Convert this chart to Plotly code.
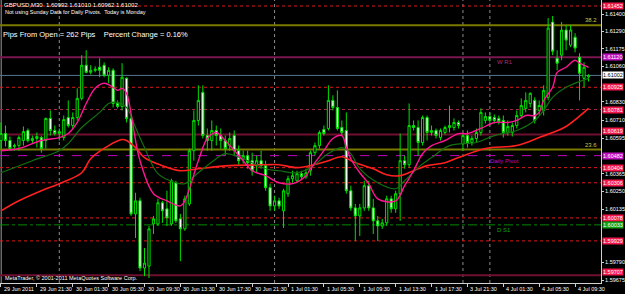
import plotly.graph_objects as go
import pandas as pd

# ---------------- data (GBPUSD M30) ----------------
opens = [
1.60580, 1.60625, 1.60580, 1.60541, 1.60547, 1.60580, 1.60645, 1.60580, 1.60593, 1.60599,
1.60580, 1.60723, 1.60645, 1.60625, 1.60599, 1.60729, 1.60677, 1.60729, 1.60853, 1.61068,
1.61022, 1.61035, 1.61055, 1.61068, 1.61003, 1.61035, 1.60820, 1.60801, 1.60983, 1.60723,
1.60104, 1.60189, 1.59753, 1.59766, 1.60039, 1.60039, 1.60176, 1.60137, 1.60039, 1.60306,
1.60072, 1.60007, 1.60169, 1.60514, 1.60710, 1.60892, 1.60612, 1.60580, 1.60645, 1.60612,
1.60580, 1.60547, 1.60612, 1.60514, 1.60462, 1.60482, 1.60449, 1.60417, 1.60449, 1.60417,
1.60274, 1.60156, 1.60189, 1.60124, 1.60235, 1.60332, 1.60319, 1.60365, 1.60345, 1.60384,
1.60501, 1.60547, 1.60651, 1.60658, 1.60840, 1.60794, 1.60664, 1.60645, 1.60254, 1.60143,
1.60091, 1.60143, 1.60287, 1.60143, 1.60059, 1.60026, 1.60046, 1.60202, 1.60137, 1.60235,
1.60449, 1.60423, 1.60677, 1.60664, 1.60567, 1.60729, 1.60632, 1.60645, 1.60599, 1.60632,
1.60664, 1.60664, 1.60697, 1.60560, 1.60612, 1.60567, 1.60593, 1.60632, 1.60710, 1.60736,
1.60729, 1.60723, 1.60710, 1.60632, 1.60632, 1.60677, 1.60742, 1.60788, 1.60820, 1.60840,
1.60775, 1.60775, 1.60860, 1.61348, 1.61113, 1.61133, 1.61296, 1.61198, 1.61250, 1.61120,
1.60983, 1.60992]

highs = [
1.60697, 1.60677, 1.60606, 1.60560, 1.60612, 1.60671, 1.60658, 1.60612, 1.60632, 1.60612,
1.60729, 1.60775, 1.60677, 1.60658, 1.60742, 1.60840, 1.60762, 1.60918, 1.61133, 1.61165,
1.61068, 1.61061, 1.61113, 1.61087, 1.61055, 1.61048, 1.60840, 1.61081, 1.60990, 1.60742,
1.60241, 1.60209, 1.59883, 1.60026, 1.60091, 1.60202, 1.60189, 1.60254, 1.60332, 1.60319,
1.60104, 1.60222, 1.60528, 1.60775, 1.60938, 1.60938, 1.60658, 1.60710, 1.60677, 1.60658,
1.60612, 1.60632, 1.60645, 1.60547, 1.60514, 1.60514, 1.60501, 1.60482, 1.60514, 1.60449,
1.60300, 1.60222, 1.60209, 1.60267, 1.60352, 1.60384, 1.60384, 1.60384, 1.60397, 1.60514,
1.60567, 1.60645, 1.60677, 1.60938, 1.60873, 1.60905, 1.60710, 1.60762, 1.60287, 1.60169,
1.60169, 1.60319, 1.60319, 1.60202, 1.60091, 1.60072, 1.60222, 1.60222, 1.60254, 1.60625,
1.60482, 1.60820, 1.60710, 1.60710, 1.60742, 1.60742, 1.60677, 1.60658, 1.60658, 1.60677,
1.60807, 1.60723, 1.60710, 1.60625, 1.60645, 1.60612, 1.60658, 1.60788, 1.60762, 1.60762,
1.60749, 1.60742, 1.60742, 1.60710, 1.60697, 1.60775, 1.60853, 1.60892, 1.60892, 1.60860,
1.60840, 1.60938, 1.61374, 1.61387, 1.61165, 1.61348, 1.61328, 1.61328, 1.61276, 1.61146,
1.61087, 1.61010]

lows = [
1.60528, 1.60541, 1.60514, 1.60514, 1.60514, 1.60547, 1.60567, 1.60560, 1.60534, 1.60501,
1.60528, 1.60612, 1.60612, 1.60580, 1.60580, 1.60664, 1.60658, 1.60710, 1.60840, 1.61016,
1.61009, 1.61022, 1.60990, 1.60990, 1.60951, 1.60794, 1.60788, 1.60775, 1.60697, 1.60091,
1.59948, 1.59733, 1.59701, 1.59688, 1.59974, 1.60026, 1.60046, 1.60026, 1.60026, 1.60046,
1.59798, 1.59994, 1.60156, 1.60449, 1.60677, 1.60593, 1.60514, 1.60514, 1.60547, 1.60528,
1.60482, 1.60514, 1.60482, 1.60417, 1.60430, 1.60397, 1.60352, 1.60371, 1.60397, 1.60254,
1.60124, 1.60124, 1.60137, 1.60013, 1.60215, 1.60306, 1.60306, 1.60332, 1.60332, 1.60352,
1.60482, 1.60528, 1.60612, 1.60645, 1.60775, 1.60645, 1.60612, 1.60235, 1.60124, 1.59929,
1.59961, 1.60124, 1.60124, 1.59974, 1.59929, 1.60007, 1.60026, 1.60111, 1.60111, 1.60059,
1.60397, 1.60404, 1.60645, 1.60482, 1.60547, 1.60580, 1.60612, 1.60593, 1.60580, 1.60619,
1.60632, 1.60645, 1.60658, 1.60514, 1.60534, 1.60547, 1.60567, 1.60612, 1.60690, 1.60677,
1.60690, 1.60684, 1.60599, 1.60612, 1.60606, 1.60658, 1.60729, 1.60762, 1.60794, 1.60690,
1.60742, 1.60742, 1.60840, 1.61133, 1.61035, 1.61100, 1.61165, 1.61185, 1.61152, 1.60840,
1.60925, 1.60962]

closes = [
1.60625, 1.60580, 1.60528, 1.60547, 1.60599, 1.60638, 1.60580, 1.60593, 1.60606, 1.60528,
1.60723, 1.60645, 1.60625, 1.60638, 1.60716, 1.60677, 1.60729, 1.60853, 1.61068, 1.61022,
1.61035, 1.61042, 1.61035, 1.61003, 1.61035, 1.60820, 1.60801, 1.60990, 1.60723, 1.60104,
1.60189, 1.59753, 1.59785, 1.60007, 1.60072, 1.60176, 1.60124, 1.60078, 1.60319, 1.60059,
1.60007, 1.60202, 1.60514, 1.60710, 1.60840, 1.60612, 1.60580, 1.60645, 1.60612, 1.60580,
1.60528, 1.60593, 1.60514, 1.60449, 1.60482, 1.60436, 1.60384, 1.60449, 1.60417, 1.60274,
1.60156, 1.60189, 1.60156, 1.60254, 1.60332, 1.60352, 1.60365, 1.60345, 1.60371, 1.60501,
1.60547, 1.60632, 1.60625, 1.60840, 1.60794, 1.60658, 1.60632, 1.60254, 1.60143, 1.60091,
1.60143, 1.60287, 1.60143, 1.60059, 1.60026, 1.60046, 1.60202, 1.60137, 1.60235, 1.60449,
1.60423, 1.60677, 1.60664, 1.60567, 1.60729, 1.60632, 1.60645, 1.60612, 1.60645, 1.60664,
1.60677, 1.60697, 1.60677, 1.60612, 1.60567, 1.60593, 1.60632, 1.60762, 1.60736, 1.60710,
1.60710, 1.60703, 1.60632, 1.60671, 1.60677, 1.60742, 1.60807, 1.60840, 1.60886, 1.60710,
1.60807, 1.60905, 1.61309, 1.61159, 1.61081, 1.61296, 1.61231, 1.61296, 1.61179, 1.61016,
1.61055, 1.61002]

# moving averages (bar index, value)
ma_fast_idx = [0,4,9,13,15,17,19,21,23,25,26,27,28,29,30,31,34,37,40,41,44,46,48,50,54,56,59,62,65,68,
               69,72,74,76,77,78,80,82,84,88,90,92,94,96,99,102,104,107,110,113,115,117,119,120,121,
               123,124,126,128,129,131]
ma_fast = [1.60514,1.60528,1.60580,1.60599,1.60625,1.60697,1.60820,1.60918,1.60951,1.60925,
           1.60905,1.60918,1.60886,1.60755,1.60580,1.60449,1.60235,1.60189,1.60156,1.60189,
           1.60449,1.60593,1.60632,1.60580,1.60449,1.60384,1.60352,1.60306,1.60300,1.60352,
           1.60397,1.60514,1.60593,1.60612,1.60534,1.60462,1.60371,1.60300,1.60202,1.60189,
           1.60287,1.60384,1.60495,1.60547,1.60580,1.60625,1.60625,1.60658,1.60697,1.60697,
           1.60710,1.60742,1.60742,1.60762,1.60840,1.60925,1.61022,1.61055,1.61100,1.61081,
           1.61055]

ma_mid_idx = [0,7,13,15,18,22,24,26,28,30,32,35,39,41,44,48,50,54,59,62,66,69,73,76,78,80,84,88,90,93,
              96,100,106,110,115,119,121,123,126,131]
ma_mid = [1.60371,1.60449,1.60514,1.60560,1.60664,1.60762,1.60820,1.60827,1.60794,1.60664,
          1.60534,1.60365,1.60306,1.60300,1.60371,1.60462,1.60495,1.60462,1.60397,1.60384,
          1.60371,1.60404,1.60495,1.60534,1.60495,1.60397,1.60306,1.60267,1.60319,1.60404,
          1.60469,1.60547,1.60567,1.60612,1.60645,1.60710,1.60775,1.60860,1.60925,1.60983]

ma_slow_idx = [0,4,9,13,18,20,24,27,28,30,32,36,40,44,51,59,62,66,69,73,76,79,83,86,89,92,95,99,102,108,
               115,120,123,126,131]
ma_slow = [1.60124,1.60189,1.60254,1.60300,1.60371,1.60462,1.60547,1.60586,1.60580,1.60534,
           1.60469,1.60417,1.60384,1.60397,1.60417,1.60423,1.60423,1.60404,1.60417,1.60449,
           1.60475,1.60436,1.60397,1.60358,1.60352,1.60384,1.60417,1.60436,1.60469,1.60528,
           1.60547,1.60599,1.60632,1.60671,1.60788]

# pivot / fibo levels
levels = [1.61452, 1.61328, 1.61120, 1.60925, 1.60781, 1.60619, 1.60521, 1.60482,
          1.60404, 1.60306, 1.60078, 1.60033, 1.59929, 1.59707]
level_kinds = ["red", "fibo", "wr1", "red", "maroon_dot", "maroon", "fibo", "pivot",
               "red", "red", "red", "s1", "red", "maroon"]
level_texts = ["", "38.2", "W R1", "", "", "", "23.6", "Daily Pivot", "", "", "", "D S1", "", ""]

# visible price-scale labels (the others are hidden behind the level boxes)
price_ticks = [1.61400, 1.61290, 1.61175, 1.61060, 1.60830, 1.60710, 1.60595,
               1.60365, 1.60250, 1.60135, 1.59790, 1.59675]

header = "GBPUSD,M30  1.60992 1.61010 1.60962 1.61002"
sub_header = "Not using Sunday Data for Daily Pivots.  Today is Monday"
pips_text = "Pips From Open = 262 Pips    Percent Change = 0.16%"
copyright_text = "MetaTrader, \u00a9 2001-2011 MetaQuotes Software Corp."

# bar times (weekend gap between 1 Jul and 3 Jul)
times = list(pd.date_range("2011-06-29 17:30", periods=103, freq="30min")) + \
        list(pd.date_range("2011-07-03 21:00", periods=29, freq="30min"))

# ---------------- figure ----------------
FONT = "Liberation Sans"
n = len(opens)
idx = list(range(n))

styles = {
    "red":        dict(color="#e01818", dash="dot",     width=1, box="#f5164a"),
    "fibo":       dict(color="#7a7a00", dash="solid",   width=2, box=None),
    "wr1":        dict(color="#7a1650", dash="solid",   width=2, box="#c010c0"),
    "maroon_dot": dict(color="#a02848", dash="dot",     width=1, box="#f5164a"),
    "maroon":     dict(color="#701030", dash="solid",   width=2, box="#f5164a"),
    "pivot":      dict(color="#c000c0", dash="dash",    width=1, box="#c010c0"),
    "s1":         dict(color="#008a00", dash="dashdot", width=1, box="#10a010"),
}
text_colors = {"fibo": "#c8c850", "wr1": "#b03070", "pivot": "#c000c0", "s1": "#10a010"}

fig = go.Figure()

fig.add_trace(go.Candlestick(
    x=idx, open=opens, high=highs, low=lows, close=closes,
    increasing=dict(line=dict(color="#00e000", width=1), fillcolor="#000000"),
    decreasing=dict(line=dict(color="#00e000", width=1), fillcolor="#ffffff"),
    whiskerwidth=0, hoverinfo="skip", showlegend=False))

fig.add_trace(go.Scatter(x=ma_slow_idx, y=ma_slow, mode="lines", line=dict(color="#ff2020", width=1.6, shape="spline"),
                         hoverinfo="skip", showlegend=False))
fig.add_trace(go.Scatter(x=ma_mid_idx, y=ma_mid, mode="lines", line=dict(color="#127012", width=1.2, shape="spline"),
                         hoverinfo="skip", showlegend=False))
fig.add_trace(go.Scatter(x=ma_fast_idx, y=ma_fast, mode="lines", line=dict(color="#ff1493", width=1.4, shape="spline"),
                         hoverinfo="skip", showlegend=False))

shapes = []
annotations = []

# day separators
for i in range(1, n):
    if times[i].date() != times[i - 1].date():
        shapes.append(dict(type="line", xref="x", yref="paper", x0=i, x1=i, y0=0, y1=1,
                           line=dict(color="#8c8c8c", width=1, dash="dot"), layer="below"))

# left border
shapes.append(dict(type="line", xref="paper", yref="paper", x0=0.002, x1=0.002, y0=0, y1=1,
                   line=dict(color="#9a9a9a", width=1), layer="below"))

# levels
for lv, kind, txt in zip(levels, level_kinds, level_texts):
    st = styles[kind]
    shapes.append(dict(type="line", xref="paper", yref="y", x0=0, x1=1, y0=lv, y1=lv,
                       line=dict(color=st["color"], width=st["width"], dash=st["dash"]), layer="below"))
    if st["box"]:
        shift = 3 if kind == "maroon" else 0
        annotations.append(dict(xref="paper", yref="y", x=1, y=lv, xanchor="left", yanchor="middle",
                                xshift=1, yshift=shift, text=f"{lv:.5f}", showarrow=False, bgcolor=st["box"],
                                borderpad=0, font=dict(family=FONT, size=5.5, color="#ffffff")))
    if txt:
        if kind == "fibo":
            annotations.append(dict(xref="paper", yref="y", x=1, y=lv, xanchor="right", yanchor="bottom",
                                    xshift=-2, text=txt, showarrow=False,
                                    font=dict(family=FONT, size=6, color=text_colors[kind])))
        else:
            annotations.append(dict(xref="x", yref="y", x=108.6 if kind == "pivot" else 110.2, y=lv,
                                    xanchor="left", yanchor="top", text=txt, showarrow=False,
                                    font=dict(family=FONT, size=6, color=text_colors[kind])))

# current price line + label
last = closes[-1]
shapes.append(dict(type="line", xref="paper", yref="y", x0=0, x1=1, y0=last, y1=last,
                   line=dict(color="#56768f", width=1), layer="below"))
annotations.append(dict(xref="paper", yref="y", x=1, y=last, xanchor="left", yanchor="middle", xshift=1,
                        text=f"{last:.5f}", showarrow=False, bgcolor="#ffffff", borderpad=0,
                        font=dict(family=FONT, size=5.5, color="#000000")))

# time axis labels (every 8 bars, left aligned like MetaTrader)
label_pos = list(range(0, n, 8))
for k, p in enumerate(label_pos):
    t = times[p]
    txt = t.strftime("%d %b %Y") if k == 0 else f"{t.day} {t.strftime('%b %H:%M')}"
    annotations.append(dict(xref="x", yref="paper", x=p, y=0, xanchor="left", yanchor="top",
                            xshift=1, yshift=-1, text=txt, showarrow=False,
                            font=dict(family=FONT, size=5.5, color="#ffffff")))

# header texts
annotations += [
    dict(xref="paper", yref="paper", x=0, y=1, xanchor="left", yanchor="top", xshift=2, yshift=0,
         text=header, showarrow=False, font=dict(family=FONT, size=6, color="#ffffff")),
    dict(xref="paper", yref="paper", x=0, y=1, xanchor="left", yanchor="top", xshift=3, yshift=-7,
         text=sub_header, showarrow=False, font=dict(family=FONT, size=5.5, color="#ffffff")),
    dict(xref="paper", yref="paper", x=0, y=1, xanchor="left", yanchor="top", xshift=1, yshift=-28,
         text=pips_text, showarrow=False, font=dict(family=FONT, size=7.5, color="#ffffff")),
    dict(xref="paper", yref="paper", x=0, y=0, xanchor="left", yanchor="bottom", xshift=3, yshift=0,
         text=copyright_text, showarrow=False, font=dict(family=FONT, size=5.5, color="#ffffff")),
]

fig.update_layout(
    width=625, height=294,
    margin=dict(l=0, r=22, t=0, b=11),
    paper_bgcolor="#000000", plot_bgcolor="#000000",
    showlegend=False, hovermode=False,
    shapes=shapes, annotations=annotations,
    boxgap=0.3,
    xaxis=dict(range=[-0.22, 133.78], showgrid=False, zeroline=False, rangeslider=dict(visible=False),
               showline=True, linecolor="#d0d0d0", linewidth=1,
               tickvals=label_pos, ticks="outside", ticklen=3, tickcolor="#d0d0d0",
               showticklabels=False),
    yaxis=dict(range=[1.59656, 1.61491], side="right", showgrid=False, zeroline=False,
               showline=True, linecolor="#d0d0d0", linewidth=1,
               tickvals=price_ticks, ticktext=[f"{v:.5f}" for v in price_ticks],
               ticks="outside", ticklen=2, tickcolor="#d0d0d0",
               tickfont=dict(family=FONT, size=5.5, color="#ffffff")),
)

fig.write_html("out.html")
